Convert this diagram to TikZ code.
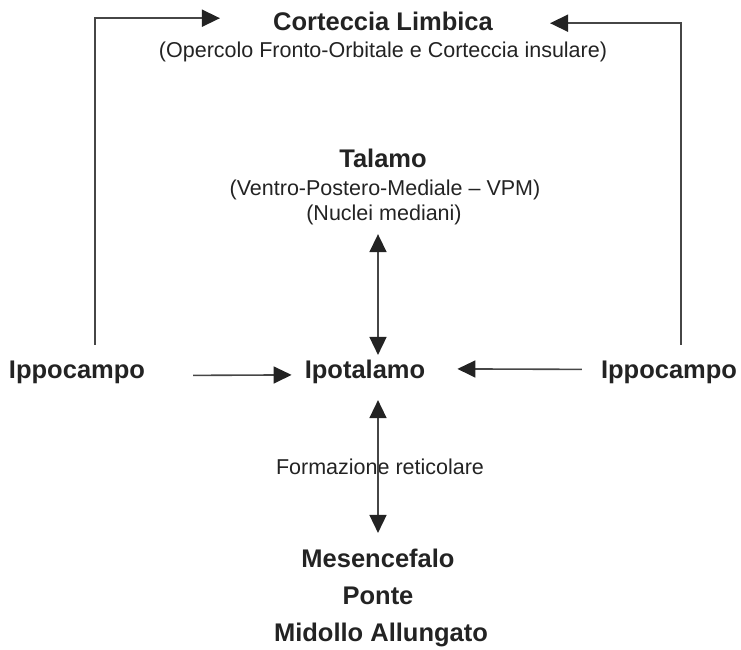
\documentclass[tikz,border=0pt]{standalone}
\usepackage{fontspec}
\setmainfont{Liberation Sans}
\usetikzlibrary{arrows.meta}
\definecolor{grigio}{RGB}{70,70,70}
\definecolor{scuro}{RGB}{35,35,35}
\tikzset{
	titolo/.style={ font=\fontsize{25.5}{30}\selectfont\bfseries, text=scuro, inner sep=0pt, anchor=base },
	nota/.style={ font=\fontsize{21.5}{25}\selectfont, text=scuro, inner sep=0pt, anchor=base },
	punta/.tip={ Triangle[length=18pt, width=17pt, color=scuro] },
	freccia/.style={ draw=grigio, line width=1.6pt, -punta },
	doppia/.style={ draw=grigio, line width=1.6pt, punta-punta }
}
\begin{document}
\begin{tikzpicture}[ x=1pt, y=-1pt ]
	  \useasboundingbox (0,0) rectangle (741,649);
	  \coordinate (asse) at (378,0);

	  \node [ titolo ] (corteccia) at (383,30) {Corteccia Limbica};
	  \node [ nota ] (opercolo) at (383,57) {(Opercolo Fronto-Orbitale e Corteccia insulare)};

	  \node [ titolo ] (talamo) at (383,167) {Talamo};
	  \node [ nota ] (vpm) at (385,195) {(Ventro-Postero-Mediale – VPM)};
	  \node [ nota ] (nuclei) at (384,220) {(Nuclei mediani)};

	  \node [ titolo ] (ippocampoL) at (77,378) {Ippocampo};
	  \node [ titolo ] (ipotalamo) at (365,378) {Ipotalamo};
	  \node [ titolo ] (ippocampoR) at (669,378) {Ippocampo};

	  \node [ nota ] (formazione) at (380,474) {Formazione reticolare};

	  \node [ titolo ] (mesencefalo) at (378,567) {Mesencefalo};
	  \node [ titolo ] (ponte) at (378,604) {Ponte};
	  \node [ titolo ] (midollo) at (381,641) {Midollo Allungato};

	  \draw [ freccia ] ([xshift=18pt,yshift=15.5pt]ippocampoL.north) |- ([xshift=-53pt,yshift=2.7pt]corteccia.west);
	  \draw [ freccia ] ([xshift=12pt,yshift=15.5pt]ippocampoR.north) |- ([xshift=57pt,yshift=-2.3pt]corteccia.east);

	  \draw [ freccia ] ([xshift=48pt,yshift=-3.5pt]ippocampoL.east) -- ([xshift=-13pt,yshift=-3.5pt]ipotalamo.west);
	  \draw [ freccia ] ([xshift=-19pt,yshift=2.5pt]ippocampoR.west) -- ([xshift=32pt,yshift=2.5pt]ipotalamo.east);

	  \draw [ doppia ] ([yshift=-9.5pt]nuclei.south -| asse) -- ([yshift=4.4pt]ipotalamo.north -| asse);
	  \draw [ doppia ] ([yshift=-16.6pt]ipotalamo.south -| asse) -- ([yshift=15.4pt]mesencefalo.north -| asse);
\end{tikzpicture}
\end{document}
